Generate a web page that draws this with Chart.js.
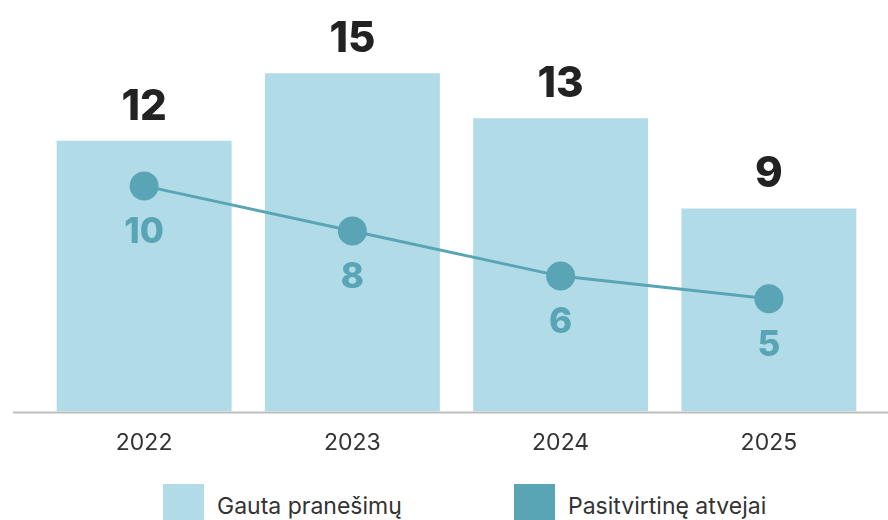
<!DOCTYPE html>
<html lang="lt">
<head>
<meta charset="UTF-8">
<title>Pranešimai ir patvirtinti atvejai</title>
<script src="https://cdn.jsdelivr.net/npm/chart.js"></script>
<style>
  html, body { margin: 0; padding: 0; background: #fff; overflow: hidden; }
  #wrap { position: relative; width: 888px; height: 520px; }
  #chart { position: absolute; left: 0; top: 0; }
  .legend-item { position: absolute; top: 484px; height: 40px; }
  .legend-item .box { position: absolute; left: 0; top: 0; width: 41px; height: 40px; }
  .legend-item .txt {
    position: absolute; top: 8px; white-space: nowrap;
    font: 23px Inter, Roboto, "Noto Sans", sans-serif; color: #333;
  }
</style>
</head>
<body>
<div id="wrap">
  <canvas id="chart" width="888" height="467"></canvas>
  <div id="legend"></div>
</div>
<script>
// Metai ir reikšmės
const years = ['2022', '2023', '2024', '2025'];
const received = [12, 15, 13, 9];
const confirmed = [10, 8, 6, 5];
const seriesNames = ['Gauta pranešimų', 'Pasitvirtinę atvejai'];

const barColor = '#b0dbe7';
const lineColor = '#5aa5b5';
const fontFamily = 'Inter, Roboto, "Noto Sans", sans-serif';

// Skaičiai virš stulpelių ir po taškais
const valueLabels = {
  id: 'valueLabels',
  afterDatasetsDraw(chart) {
    const ctx = chart.ctx;
    ctx.save();
    ctx.textAlign = 'center';
    ctx.textBaseline = 'alphabetic';

    const bars = chart.getDatasetMeta(0).data;
    ctx.fillStyle = '#222222';
    ctx.font = '800 42px ' + fontFamily;
    bars.forEach((bar, i) => {
      ctx.fillText(received[i], bar.x, bar.y - 21);
    });

    const pts = chart.getDatasetMeta(1).data;
    ctx.fillStyle = lineColor;
    ctx.font = '800 35px ' + fontFamily;
    pts.forEach((p, i) => {
      ctx.fillText(confirmed[i], p.x, p.y + 57);
    });
    ctx.restore();
  }
};

// Pagrindo linija per visą plotį
const baseLine = {
  id: 'baseLine',
  beforeDatasetsDraw(chart) {
    const ctx = chart.ctx;
    const y = chart.scales.y.getPixelForValue(0);
    ctx.save();
    ctx.strokeStyle = '#bdbdbd';
    ctx.lineWidth = 2;
    ctx.beginPath();
    ctx.moveTo(13, y + 1);
    ctx.lineTo(chart.width, y + 1);
    ctx.stroke();
    ctx.restore();
  }
};

const chart = new Chart(document.getElementById('chart'), {
  type: 'bar',
  data: {
    labels: years,
    datasets: [
      {
        label: seriesNames[0],
        data: received,
        backgroundColor: barColor,
        borderWidth: 0,
        categoryPercentage: 1,
        barPercentage: 0.84,
        order: 2
      },
      {
        type: 'line',
        label: seriesNames[1],
        data: confirmed,
        borderColor: lineColor,
        backgroundColor: lineColor,
        borderWidth: 3,
        pointRadius: 14.5,
        pointHoverRadius: 14.5,
        pointBackgroundColor: lineColor,
        pointBorderWidth: 0,
        tension: 0,
        order: 1
      }
    ]
  },
  options: {
    responsive: false,
    animation: false,
    layout: { padding: { left: 40, right: 15, top: 6, bottom: 0 } },
    plugins: {
      tooltip: { enabled: false },
      legend: { display: false }
    },
    scales: {
      x: {
        grid: { display: false },
        border: { display: false },
        ticks: {
          color: '#333333',
          padding: 10,
          font: { family: fontFamily, size: 23 }
        }
      },
      y: {
        display: false,
        min: 0,
        max: 17.6
      }
    }
  },
  plugins: [baseLine, valueLabels]
});

// Legenda po grafiku
const legend = document.getElementById('legend');
const legendLeft = [163, 514];
chart.data.datasets.forEach((ds, i) => {
  const item = document.createElement('div');
  item.className = 'legend-item';
  item.style.left = legendLeft[i] + 'px';
  item.innerHTML = '<div class="box" style="background:' + ds.backgroundColor +
    '"></div><div class="txt" style="left:54px">' + ds.label + '</div>';
  legend.appendChild(item);
});
</script>
</body>
</html>
